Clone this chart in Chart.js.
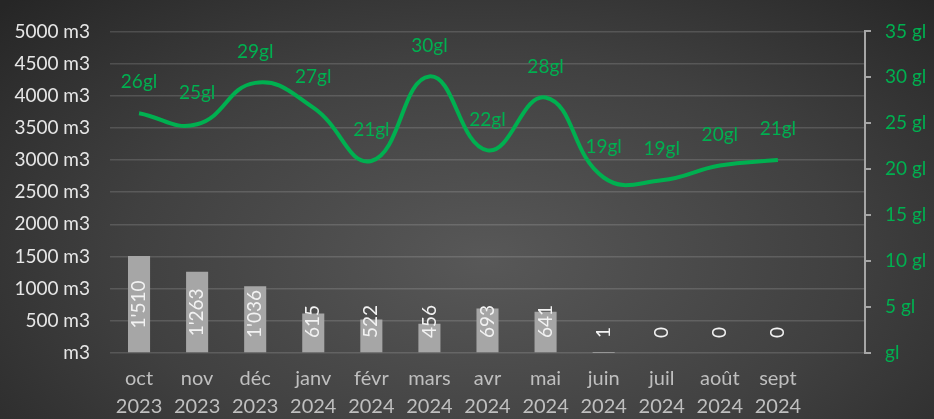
<!DOCTYPE html>
<html>
<head>
<meta charset="utf-8">
<script src="https://cdn.jsdelivr.net/npm/chart.js@4/dist/chart.umd.min.js"></script>
<style>
html, body { margin: 0; padding: 0; }
body {
    width: 934px; height: 419px; overflow: hidden;
    background: radial-gradient(ellipse 70% 90% at 52% 62%, #585858 0%, #404040 55%, #262626 100%);
}
</style>
</head>
<body>
<canvas id="chart" width="934" height="419"></canvas>
<script>
// categories (last one is an empty slot, as in the original chart)
var months = ['oct', 'nov', 'déc', 'janv', 'févr', 'mars', 'avr', 'mai', 'juin', 'juil', 'août', 'sept', ''];
var years = ['2023', '2023', '2023', '2024', '2024', '2024', '2024', '2024', '2024', '2024', '2024', '2024', ''];
// consumption in m3
var volumes = [1510, 1263, 1036, 615, 522, 456, 693, 641, 1, 0, 0, 0, null];
// glycol level in gl
var glycols = [26.1, 24.9, 29.4, 26.7, 20.9, 30.1, 22.05, 27.8, 19.1, 18.8, 20.4, 21.0, null];

var green = '#00B050';
var fontFamily = 'Lato, "Open Sans", sans-serif';

function fmtThousands(v) {
    return String(v).replace(/\B(?=(\d{3})+(?!\d))/g, "'");
}

var labels = months.map(function(m, i) { return [m, years[i]]; });

// draws the value labels (rotated in the bars, green above the line)
var valueLabels = {
    id: 'valueLabels',
    afterDatasetsDraw: function(chart) {
        var ctx = chart.ctx;
        var base = chart.scales.y.getPixelForValue(0);
        ctx.save();
        ctx.font = '19px ' + fontFamily;
        ctx.textAlign = 'center';
        ctx.textBaseline = 'middle';

        ctx.fillStyle = '#f2f2f2';
        chart.getDatasetMeta(0).data.forEach(function(bar, i) {
            var v = volumes[i];
            if (v == null) return;
            var txt = fmtThousands(v);
            var w = ctx.measureText(txt).width;
            var cy = Math.min((bar.y + base) / 2, base - 15 - w / 2);
            ctx.save();
            ctx.translate(bar.x, cy);
            ctx.rotate(-Math.PI / 2);
            ctx.fillText(txt, 0, 0);
            ctx.restore();
        });

        ctx.fillStyle = green;
        chart.getDatasetMeta(1).data.forEach(function(pt, i) {
            var v = glycols[i];
            if (v == null) return;
            ctx.fillText(Math.round(v) + 'gl', pt.x, pt.y - 31);
        });
        ctx.restore();
    }
};

var config = {
    type: 'bar',
    data: {
        labels: labels,
        datasets: [
            {
                type: 'bar',
                label: 'm3',
                data: volumes,
                yAxisID: 'y',
                backgroundColor: '#a6a6a6',
                barPercentage: 0.38,
                categoryPercentage: 1,
                order: 1
            },
            {
                type: 'line',
                label: 'gl',
                data: glycols,
                yAxisID: 'y2',
                borderColor: green,
                borderWidth: 4,
                pointRadius: 0,
                tension: 0.45,
                fill: false,
                order: 0
            }
        ]
    },
    options: {
        responsive: false,
        animation: false,
        layout: { padding: { top: 18, left: 0, right: 0, bottom: 0 } },
        plugins: {
            legend: { display: false },
            tooltip: { enabled: false }
        },
        scales: {
            x: {
                offset: true,
                grid: { display: false, drawTicks: false },
                border: { display: false },
                ticks: {
                    color: '#bfbfbf',
                    font: { family: fontFamily, size: 20, lineHeight: 1.4 },
                    maxRotation: 0,
                    autoSkip: false,
                    padding: 12
                },
                afterFit: function(s) { s.height = 66; }
            },
            y: {
                position: 'left',
                min: 0,
                max: 5000,
                grid: { color: 'rgba(255,255,255,0.14)', lineWidth: 1.5, drawTicks: false },
                border: { display: false },
                ticks: {
                    stepSize: 500,
                    color: '#e6e6e6',
                    font: { family: fontFamily, size: 19 },
                    padding: 20,
                    callback: function(v) { return v === 0 ? 'm3' : v + ' m3'; }
                },
                afterFit: function(s) { s.width = 110; }
            },
            y2: {
                position: 'right',
                min: 0,
                max: 35,
                grid: { drawOnChartArea: false, color: '#a6a6a6', lineWidth: 2, tickLength: 6 },
                border: { display: true, color: '#a6a6a6', width: 2 },
                ticks: {
                    stepSize: 5,
                    color: green,
                    font: { family: fontFamily, size: 19 },
                    padding: 14,
                    callback: function(v) { return v === 0 ? 'gl' : v + ' gl'; }
                },
                afterFit: function(s) { s.width = 69; }
            }
        }
    },
    plugins: [valueLabels]
};

new Chart(document.getElementById('chart'), config);
</script>
</body>
</html>
